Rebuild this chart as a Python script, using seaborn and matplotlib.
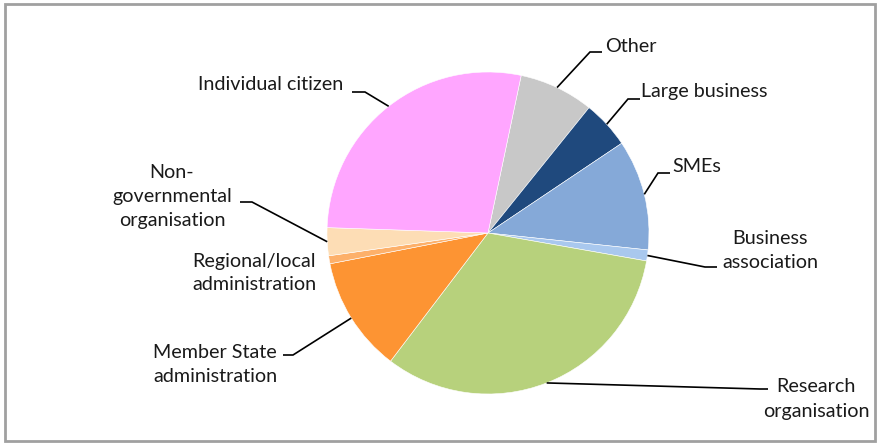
import numpy as np
import matplotlib
matplotlib.use("Agg")
import matplotlib.pyplot as plt
import seaborn as sns

sns.set_theme(style="white")
plt.rcParams["font.family"] = ["Lato", "DejaVu Sans"]

# Respondent categories, clockwise from just right of 12 o'clock
categories = [
    "Other",
    "Large business",
    "SMEs",
    "Business\nassociation",
    "Research\norganisation",
    "Member State\nadministration",
    "Regional/local\nadministration",
    "Non-\ngovernmental\norganisation",
    "Individual citizen",
]
shares = [7.5, 4.8, 11.1, 1.1, 32.6, 11.6, 0.8, 2.8, 27.8]
colors = ["#C8C8C8", "#1F497D", "#85A9D8", "#A9C8EE", "#B7D17C",
          "#FD9433", "#FDB06A", "#FDDDB5", "#FFA6FF"]

W, H, DPI = 878, 445, 100
CX, CY, R = 488, 233, 161  # pie centre and radius in pixels


def px(x, y):
    """Pixel position -> data coordinates (pie radius = 1)."""
    return (x - CX) / R, (CY - y) / R


fig = plt.figure(figsize=(W / DPI, H / DPI), dpi=DPI)
ax = fig.add_axes([0, 0, 1, 1])

start = 90 - 11.9
wedges, _ = ax.pie(shares, colors=colors, startangle=start, counterclock=False,
                   radius=1.0, center=(0, 0), frame=True,
                   wedgeprops=dict(linewidth=0.4, edgecolor="white"))
ax.set_xlim(-CX / R, (W - CX) / R)
ax.set_ylim(-(H - CY) / R, CY / R)
ax.set_aspect("auto")
ax.axis("off")

# label layout: text anchor (px), alignment, elbow point (px), line end (px)
layout = {
    "Other": ((605, 46), "left", (590, 52), (602, 52)),
    "Large business": ((641, 92), "left", (628, 99), (640, 99)),
    "SMEs": ((672, 166), "left", (658, 173), (670, 173)),
    "Business\nassociation": ((770, 250), "center", (705, 267), (717, 267)),
    "Research\norganisation": ((816, 399), "center", (760, 389), (768, 389)),
    "Member State\nadministration": ((215, 364), "center", (293, 355), (283, 355)),
    "Regional/local\nadministration": ((254, 273), "center", None, None),
    "Non-\ngovernmental\norganisation": ((172, 196), "center", (252, 202), (240, 202)),
    "Individual citizen": ((271, 84), "center", (365, 92), (352, 92)),
}

for w, name in zip(wedges, categories):
    (tx, ty), ha, elbow, end = layout[name]
    ax.text(*px(tx, ty), name, ha=ha, va="center", fontsize=14.2,
            color="#1a1a1a", linespacing=1.5)
    if elbow is None:
        continue
    mid = np.deg2rad((w.theta1 + w.theta2) / 2)
    x0, y0 = np.cos(mid), np.sin(mid)
    ex, ey = px(*elbow)
    lx, ly = px(*end)
    ax.plot([x0, ex, lx], [y0, ey, ly], color="black", lw=1.2,
            solid_capstyle="butt", solid_joinstyle="miter")

# outer chart frame
fig.patches.append(plt.Rectangle((5 / W, 4 / H), 870 / W, 437 / H,
                                 transform=fig.transFigure, fill=False,
                                 edgecolor="#A0A0A0", linewidth=2))

fig.savefig("out.png", dpi=DPI)
